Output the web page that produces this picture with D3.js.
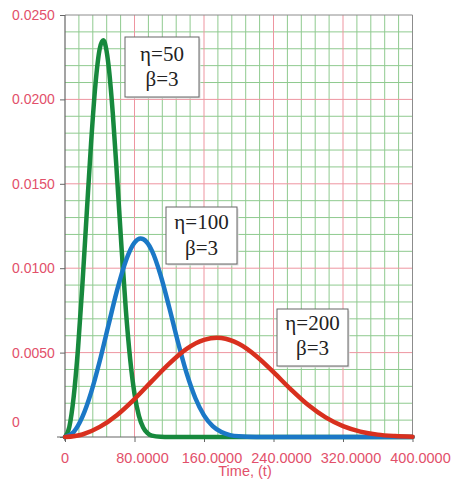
<!DOCTYPE html>
<html><head><meta charset="utf-8">
<script src="https://cdn.jsdelivr.net/npm/d3@7"></script>
<style>body{margin:0;background:#fff}svg{display:block}
.ann{font-family:"Liberation Serif","DejaVu Serif",serif;}
.lbl{font-family:"Liberation Sans",Arial,sans-serif;}
</style>
</head><body>
<script>
// Data
const tValues = [0,5,10,15,20,25,30,35,40,44,45,50,55,60,65,70,75,80,85,90,95,100,110,120,140,160,180,200,220,240,260,280,300,320,340,360,380,400];
const eta50 = [0,0.0006,0.00238,0.00526,0.0090,0.01324,0.0174,0.02086,0.02301,0.02351,0.02345,0.02207,0.01918,0.01535,0.01127,0.00756,0.00462,0.00256,0.00127,0.00057,0.00023,0.00008,0.00001,0,0,0,0,0,0,0,0,0,0,0,0,0,0,0];
const tValues100 = [0,10,20,30,40,50,60,70,80,87,90,100,110,120,130,140,150,160,170,180,190,200,220,240,280,320,360,400];
const eta100 = [0,0.0003,0.00119,0.00263,0.0045,0.00662,0.0087,0.01043,0.01151,0.011755,0.01172,0.01104,0.00959,0.00767,0.00563,0.00378,0.00231,0.00128,0.00064,0.00029,0.00011,0.00004,0.000003,0,0,0,0,0];
const tValues200 = [0,20,40,60,80,100,120,140,160,175,180,200,220,240,260,280,300,320,340,360,380,400];
const eta200 = [0,0.00015,0.0006,0.00131,0.00225,0.00331,0.00435,0.00522,0.00575,0.00588,0.00586,0.00552,0.0048,0.00384,0.00282,0.00189,0.00116,0.00064,0.00032,0.00014,0.00006,0.00002];
const xTicks = [0,80,160,240,320,400];
const xTickLabels = ["0","80.0000","160.0000","240.0000","320.0000","400.0000"];
const yTicks = [0,0.005,0.010,0.015,0.020,0.025];
const yTickLabels = ["0","0.0050","0.0100","0.0150","0.0200","0.0250"];
const labels = [
  {l1:"η=50", l2:"β=3"},
  {l1:"η=100", l2:"β=3"},
  {l1:"η=200", l2:"β=3"}
];
const xTitle = "Time, (t)";

const W = 452, H = 482;
const svg = d3.select("body").append("svg").attr("width", W).attr("height", H);
const x = d3.scaleLinear().domain([0,400]).range([65,412.5]);
const y = d3.scaleLinear().domain([0,0.025]).range([437,15]);

const labelColor = "#e2506a";
const g = svg.append("g");

// minor grid
const minorX = d3.range(0,401,16).filter(v => v % 80 !== 0);
const minorY = d3.range(0,26,1).filter(v => v % 5 !== 0).map(v => v/1000);
g.selectAll(".mx").data(minorX).join("line")
  .attr("x1", d=>x(d)).attr("x2", d=>x(d)).attr("y1", y(0)).attr("y2", y(0.025))
  .attr("stroke", "#8fca8f").attr("stroke-width", 1);
g.selectAll(".my").data(minorY).join("line")
  .attr("x1", x(0)).attr("x2", x(400)).attr("y1", d=>y(d)).attr("y2", d=>y(d))
  .attr("stroke", "#8fca8f").attr("stroke-width", 1);
// major grid
g.selectAll(".Mx").data(xTicks.slice(1,-1)).join("line")
  .attr("x1", d=>x(d)).attr("x2", d=>x(d)).attr("y1", y(0)).attr("y2", y(0.025))
  .attr("stroke", "#ee95a0").attr("stroke-width", 1);
g.selectAll(".My").data(yTicks.slice(1,-1)).join("line")
  .attr("x1", x(0)).attr("x2", x(400)).attr("y1", d=>y(d)).attr("y2", d=>y(d))
  .attr("stroke", "#ee95a0").attr("stroke-width", 1);

// frame
g.append("line").attr("x1", x(0)).attr("x2", x(400)).attr("y1", y(0.025)).attr("y2", y(0.025)).attr("stroke","#8c8c8c");
g.append("line").attr("x1", x(400)).attr("x2", x(400)).attr("y1", y(0.025)).attr("y2", y(0)).attr("stroke","#8c8c8c");

// axes
const xAxis = d3.axisBottom(x).tickValues(xTicks).tickSize(5).tickFormat("");
const xa = svg.append("g").attr("transform", `translate(0,${y(0)})`).call(xAxis);
xa.select(".domain").remove();
xa.selectAll("line").attr("stroke","#666");
svg.append("line").attr("x1", 57).attr("x2", x(400)).attr("y1", y(0)).attr("y2", y(0)).attr("stroke","#666").attr("stroke-width",1.2);
const yAxis = d3.axisLeft(y).tickValues(yTicks).tickSize(5).tickFormat("");
const ya = svg.append("g").attr("transform", `translate(${x(0)},0)`).call(yAxis);
ya.select(".domain").remove();
ya.selectAll("line").attr("stroke","#666");
svg.append("line").attr("x1", x(0)).attr("x2", x(0)).attr("y1", y(0.025)).attr("y2", y(0)+4).attr("stroke","#666").attr("stroke-width",1.2);

// tick labels
svg.selectAll(".xl").data(xTicks).join("text").attr("class","lbl")
  .attr("x", (d,i)=> x(d) + (i===0?0:8)).attr("y", 463)
  .attr("text-anchor","middle")
  .attr("font-size", 14.5).attr("fill", labelColor).text((d,i)=>xTickLabels[i]);
svg.selectAll(".yl").data(yTicks).join("text").attr("class","lbl")
  .attr("x", 12).attr("y", (d,i)=> (i===0? 422 : y(d)) + 5)
  .attr("font-size", 14).attr("fill", labelColor).text((d,i)=>yTickLabels[i]);
svg.append("text").attr("class","lbl").attr("x", 245).attr("y", 476).attr("text-anchor","middle")
  .attr("font-size", 14.5)
  .attr("fill", labelColor).text(xTitle);

// curves
const line = d3.line().x(d=>x(d[0])).y(d=>y(d[1])).curve(d3.curveMonotoneX);
const series = [
  {t: tValues, v: eta50, c: "#17893d"},
  {t: tValues100, v: eta100, c: "#1b78c6"},
  {t: tValues200, v: eta200, c: "#d8301e"}
];
series.forEach(s => {
  svg.append("path").datum(s.t.map((t,i)=>[t, s.v[i]]))
    .attr("d", line).attr("fill","none").attr("stroke", s.c)
    .attr("stroke-width", 4.5).attr("stroke-linejoin","round").attr("stroke-linecap","round");
});

// annotation boxes
const boxes = [
  {x0:125, x1:199, y0:37, y1:97, ly1:54, ly2:79},
  {x0:166, x1:237, y0:207, y1:264, ly1:222, ly2:248},
  {x0:277, x1:348, y0:309, y1:366, ly1:323, ly2:348}
];
boxes.forEach((b,i) => {
  svg.append("rect").attr("x", b.x0+1.5).attr("y", b.y0+1.5).attr("width", b.x1-b.x0).attr("height", b.y1-b.y0)
    .attr("fill","#dddddd");
  svg.append("rect").attr("x", b.x0).attr("y", b.y0).attr("width", b.x1-b.x0).attr("height", b.y1-b.y0)
    .attr("fill","#fff").attr("stroke","#666").attr("stroke-width",1);
  const cx = (b.x0+b.x1)/2;
  svg.append("text").attr("class","ann").attr("x", cx).attr("y", b.ly1+7).attr("text-anchor","middle")
    .attr("font-size", 21).attr("fill","#222").text(labels[i].l1);
  svg.append("text").attr("class","ann").attr("x", cx).attr("y", b.ly2+7).attr("text-anchor","middle")
    .attr("font-size", 21).attr("fill","#222").text(labels[i].l2);
});
</script>
</body></html>
